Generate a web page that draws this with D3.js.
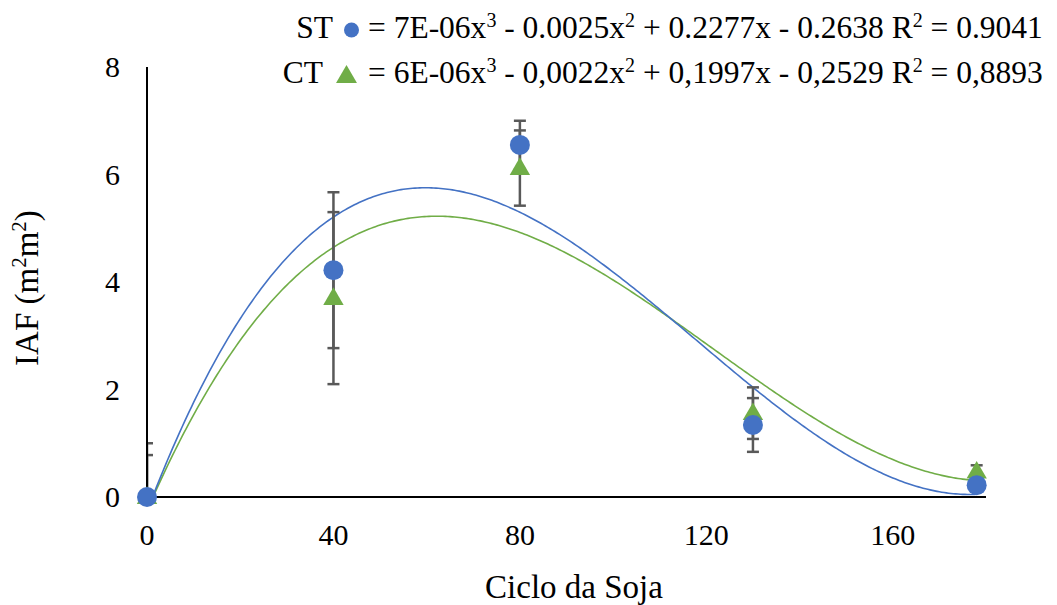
<!DOCTYPE html>
<html>
<head>
<meta charset="utf-8">
<script src="https://cdn.jsdelivr.net/npm/d3@7"></script>
<style>
  body { margin: 0; background: #fff; }
  text { font-family: "Liberation Serif", "Times New Roman", serif; fill: #000; }
</style>
</head>
<body>
<svg id="chart" width="1057" height="605"></svg>
<script>
const xTicks = [0, 40, 80, 120, 160];
const yTicks = [0, 2, 4, 6, 8];
const days = [0, 40, 80, 130, 178];
const stIAF = [0, 4.22, 6.55, 1.34, 0.22];
const stErr = [0.78, 1.45, 0.45, 0.5, 0.08];
const ctIAF = [0, 3.7, 6.12, 1.56, 0.47];
const ctErr = [1.0, 1.6, 0.7, 0.48, 0.12];
const stLabel = 'ST';
const ctLabel = 'CT';
const stEq = ['= 7E-06x', '3', ' - 0.0025x', '2', ' + 0.2277x - 0.2638  R', '2', ' = 0.9041'];
const ctEq = ['= 6E-06x', '3', ' - 0,0022x', '2', ' + 0,1997x - 0,2529  R', '2', ' = 0,8893'];

const blue = '#4472C4';
const green = '#70AD47';
const grey = '#595959';

const svg = d3.select('#chart');
const plotL = 147, plotR = 986, plotT = 67, plotB = 497;

const x = d3.scaleLinear().domain([0, 180]).range([plotL, plotR]);
const y = d3.scaleLinear().domain([0, 8]).range([plotB, plotT]);

// cubic least squares, like the excel trendline
function cubicFit(xs, ys) {
  const n = 4;
  const A = [];
  for (let i = 0; i < n; i++) {
    A.push([]);
    for (let j = 0; j < n; j++) A[i].push(d3.sum(xs, v => Math.pow(v, i + j)));
    A[i].push(d3.sum(xs, (v, k) => Math.pow(v, i) * ys[k]));
  }
  for (let c = 0; c < n; c++) {
    let p = c;
    for (let r = c + 1; r < n; r++) if (Math.abs(A[r][c]) > Math.abs(A[p][c])) p = r;
    [A[c], A[p]] = [A[p], A[c]];
    for (let r = 0; r < n; r++) {
      if (r === c) continue;
      const f = A[r][c] / A[c][c];
      for (let k = c; k <= n; k++) A[r][k] -= f * A[c][k];
    }
  }
  const coef = A.map((row, i) => row[n] / row[i]);
  return v => coef[0] + coef[1] * v + coef[2] * v * v + coef[3] * v * v * v;
}

svg.append('defs').append('clipPath').attr('id', 'plot')
  .append('rect').attr('x', plotL).attr('y', plotT - 10).attr('width', plotR - plotL).attr('height', plotB - plotT + 13);

// trendlines
const line = d3.line().x(d => x(d[0])).y(d => y(d[1]));
[[ctIAF, green], [stIAF, blue]].forEach(([vals, col]) => {
  const f = cubicFit(days, vals);
  const pts = d3.range(0, 178.5, 0.5).map(v => [v, f(v)]);
  svg.append('path')
    .attr('d', line(pts))
    .attr('fill', 'none')
    .attr('stroke', col)
    .attr('stroke-width', 1.6)
    .attr('clip-path', 'url(#plot)');
});

// error bars
const eb = svg.append('g').attr('clip-path', 'url(#plot)')
  .attr('stroke', grey).attr('stroke-width', 2.5);
[[stIAF, stErr], [ctIAF, ctErr]].forEach(([vals, errs]) => {
  days.forEach((d, i) => {
    const lo = y(vals[i] - errs[i]), hi = y(vals[i] + errs[i]);
    eb.append('line').attr('x1', x(d)).attr('x2', x(d)).attr('y1', lo).attr('y2', hi);
    eb.append('line').attr('x1', x(d) - 6).attr('x2', x(d) + 6).attr('y1', lo).attr('y2', lo);
    eb.append('line').attr('x1', x(d) - 6).attr('x2', x(d) + 6).attr('y1', hi).attr('y2', hi);
  });
});

// axes
svg.append('line').attr('x1', plotL).attr('x2', plotL).attr('y1', plotT).attr('y2', plotB)
  .attr('stroke', '#000').attr('stroke-width', 2);
svg.append('line').attr('x1', plotL).attr('x2', plotR).attr('y1', plotB).attr('y2', plotB)
  .attr('stroke', '#000').attr('stroke-width', 2);

svg.selectAll('.ytick').data(yTicks).join('text')
  .attr('x', 120).attr('y', d => y(d) + 10)
  .attr('text-anchor', 'end').attr('font-size', 30).text(d => d);
svg.selectAll('.xtick').data(xTicks).join('text')
  .attr('x', d => x(d)).attr('y', 545)
  .attr('text-anchor', 'middle').attr('font-size', 30).text(d => d);

svg.append('text').attr('x', 574).attr('y', 598).attr('text-anchor', 'middle')
  .attr('font-size', 33).text('Ciclo da Soja');

const yt = svg.append('text').attr('transform', 'translate(38,288) rotate(-90)')
  .attr('text-anchor', 'middle').attr('font-size', 33);
yt.append('tspan').text('IAF (m');
yt.append('tspan').attr('dy', -12).attr('font-size', 21).text('2');
yt.append('tspan').attr('dy', 12).text('m');
yt.append('tspan').attr('dy', -12).attr('font-size', 21).text('2');
yt.append('tspan').attr('dy', 12).text(')');

// markers
const tri = d3.symbol().type(d3.symbolTriangle).size(180);
days.forEach((d, i) => {
  svg.append('path').attr('d', tri()).attr('fill', green)
    .attr('transform', `translate(${x(d)},${y(ctIAF[i]) + 1})`);
});
days.forEach((d, i) => {
  svg.append('circle').attr('cx', x(d)).attr('cy', y(stIAF[i])).attr('r', 10).attr('fill', blue);
});

// legend
function legendRow(label, labelEnd, marker, eq, base) {
  svg.append('text').attr('x', labelEnd).attr('y', base).attr('text-anchor', 'end')
    .attr('font-size', 31.5).text(label);
  marker(base);
  const t = svg.append('text').attr('x', 368).attr('y', base).attr('font-size', 31.5);
  eq.forEach((s, i) => {
    if (i % 2 === 1) t.append('tspan').attr('dy', -11).attr('font-size', 20).text(s);
    else t.append('tspan').attr('dy', i === 0 ? 0 : 11).text(s);
  });
}
legendRow(stLabel, 333, b => svg.append('circle').attr('cx', 351.5).attr('cy', b - 8).attr('r', 7.5).attr('fill', blue),
  stEq, 38);
legendRow(ctLabel, 323, b => svg.append('path').attr('d', d3.symbol().type(d3.symbolTriangle).size(190)())
  .attr('fill', green).attr('transform', `translate(346.5,${b - 6})`), ctEq, 83);
</script>
</body>
</html>
